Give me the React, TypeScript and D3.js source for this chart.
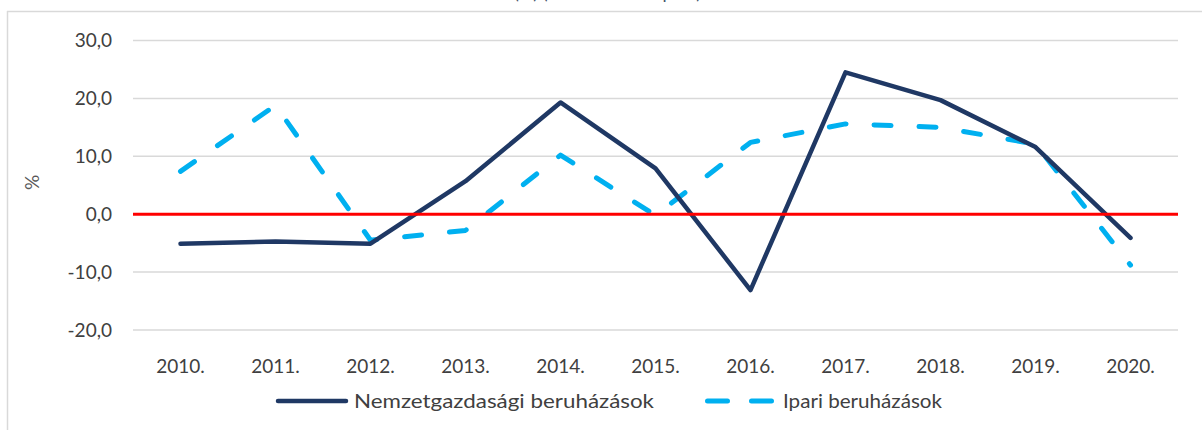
import React from 'react';
import * as d3 from 'd3';

// adatok
const years = ['2010.', '2011.', '2012.', '2013.', '2014.', '2015.', '2016.', '2017.', '2018.', '2019.', '2020.'];
const nemzetgazdasagi = [-5.1, -4.7, -5.1, 5.7, 19.3, 7.9, -13.1, 24.5, 19.7, 11.6, -4.1];
const ipari = [7.4, 18.8, -4.5, -2.8, 10.2, -0.2, 12.4, 15.6, 15.0, 12.1, -8.8];
const yTicks = [-20, -10, 0, 10, 20, 30];

const W = 1202;
const H = 430;
const font = 'Lato, "Open Sans", sans-serif';

const App = () => {
  const x = d3.scaleBand<string>().domain(years).range([133, 1178]);
  const y = d3.scaleLinear().domain([-20, 30]).range([330, 40.5]);
  const cx = (i: number) => (x(years[i]) as number) + x.bandwidth() / 2;

  const line = d3
    .line<number>()
    .x((_, i) => cx(i))
    .y((d) => y(d));

  const fmt = (v: number) => v.toFixed(1).replace('.', ',');

  return (
    <div style={{ position: 'absolute', left: 0, top: 0 }}>
      <svg width={W} height={H} style={{ display: 'block', background: '#fff' }}>
        {/* levágott cím */}
        <text x={514} y={-1} fontFamily={font} fontSize={18} fill="#44546A">
          (%) (előző évhez képest)
        </text>
        {/* keret */}
        <line x1={7} x2={W} y1={11.5} y2={11.5} stroke="#D9D9D9" strokeWidth={1.5} />
        <line x1={7.5} x2={7.5} y1={11} y2={H} stroke="#D9D9D9" strokeWidth={1.5} />

        {/* rács */}
        {yTicks.map((t) => (
          <g key={t}>
            {t !== 0 && (
              <line x1={133} x2={1178} y1={y(t)} y2={y(t)} stroke="#D9D9D9" strokeWidth={1.5} />
            )}
            <text
              x={112}
              y={y(t)}
              dy="0.35em"
              textAnchor="end"
              fontFamily={font}
              fontSize={19}
              fill="#404040"
            >
              {fmt(t)}
            </text>
          </g>
        ))}

        <text
          transform={`translate(39,${y(5.5)}) rotate(-90)`}
          textAnchor="middle"
          fontFamily={font}
          fontSize={19}
          fill="#595959"
        >
          %
        </text>

        {years.map((yr, i) => (
          <text
            key={yr}
            x={cx(i)}
            y={373}
            textAnchor="middle"
            fontFamily={font}
            fontSize={19}
            fill="#404040"
          >
            {yr}
          </text>
        ))}

        {/* vonalak */}
        <path
          d={line(ipari) || ''}
          fill="none"
          stroke="#00B0F0"
          strokeWidth={5}
          strokeDasharray="17 28"
          strokeLinecap="round"
          strokeLinejoin="round"
        />
        <path
          d={line(nemzetgazdasagi) || ''}
          fill="none"
          stroke="#1F3864"
          strokeWidth={4.5}
          strokeLinecap="round"
          strokeLinejoin="round"
        />
        <line x1={133} x2={1178} y1={y(0)} y2={y(0)} stroke="#FF0000" strokeWidth={3} />

        {/* jelmagyarázat */}
        <line x1={278} x2={346} y1={401} y2={401} stroke="#1F3864" strokeWidth={4.5} strokeLinecap="round" />
        <text
          x={354}
          y={401}
          dy="0.35em"
          fontFamily={font}
          fontSize={20}
          fill="#404040"
          textLength={300}
          lengthAdjust="spacingAndGlyphs"
        >
          Nemzetgazdasági beruházások
        </text>
        <line
          x1={707.5}
          x2={771.5}
          y1={401}
          y2={401}
          stroke="#00B0F0"
          strokeWidth={5}
          strokeDasharray="20 24"
          strokeLinecap="round"
        />
        <text
          x={783}
          y={401}
          dy="0.35em"
          fontFamily={font}
          fontSize={20}
          fill="#404040"
          textLength={159}
          lengthAdjust="spacingAndGlyphs"
        >
          Ipari beruházások
        </text>
      </svg>
    </div>
  );
};

export default App;
